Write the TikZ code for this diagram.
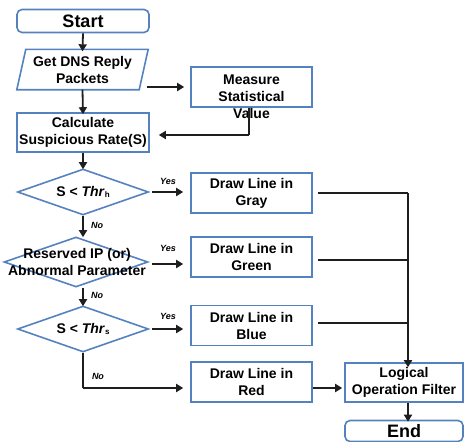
\documentclass[tikz,border=0pt]{standalone}
\usepackage{fontspec}
\setmainfont{Liberation Sans}
\usetikzlibrary{shapes.geometric,arrows.meta}
\definecolor{boxblue}{RGB}{84,130,190}
\definecolor{linecol}{RGB}{30,30,30}
\begin{document}
\begin{tikzpicture}[x=1pt,y=-1pt,
  txt/.style={font=\fontsize{14}{17}\selectfont\bfseries, align=center, inner sep=0pt},
  box/.style={draw=boxblue, line width=1.6pt, txt, minimum width=121pt, minimum height=40pt},
  term/.style={draw=boxblue, line width=1.6pt, rounded corners=5pt, align=center, inner sep=0pt, font=\fontsize{18}{20}\selectfont\bfseries},
  dia/.style={draw=boxblue, line width=1.6pt, diamond, inner sep=0pt},
  conn/.style={draw=linecol, line width=1.8pt},
  arr/.style={conn, -{Triangle[length=7pt,width=8pt]}},
  lbl/.style={font=\fontsize{9}{10}\selectfont\bfseries\itshape, inner sep=0pt}]
\useasboundingbox (0,0) rectangle (464,442);

% terminals and boxes
\node[term, minimum width=132pt, minimum height=23pt] (start) at (83,21) {Start};
\node[txt, minimum width=122pt, minimum height=40pt] (get) at (82.5,69.5) {Get DNS Reply\\Packets};
\draw[draw=boxblue, line width=1.6pt] ([xshift=4.5pt]get.north west) -- ([xshift=4.5pt]get.north east) -- ([xshift=-4.5pt]get.south east) -- ([xshift=-4.5pt]get.south west) -- cycle;
\node[box] (measure) at (251.5,87) {};
\node[txt] (mtext) at (251.5,97) {Measure\\Statistical\\Value};
\node[box, minimum width=132pt, minimum height=39pt] (calc) at (83,132.5) {Calculate\\Suspicious Rate(S)};

\node[dia, minimum width=131pt, minimum height=46pt] (d1) at (83,192) {};
\node[txt] (d1t) at (83,192) {S < \textit{Thr}\raisebox{-1pt}{\fontsize{8}{9}\selectfont h}};
\node[dia, minimum width=144pt, minimum height=50pt] (d2) at (76,262) {};
\node[txt] (d2t) at (77,262) {Reserved IP (or)\\Abnormal Parameter};
\node[dia, minimum width=131pt, minimum height=46pt] (d3) at (83,329) {};
\node[txt] (d3t) at (83,329) {S < \textit{Thr}\raisebox{-1pt}{\fontsize{8}{9}\selectfont s}};

\node[box] (gray) at (251.5,193) {Draw Line in\\Gray};
\node[box] (green) at (251.5,257) {Draw Line in\\Green};
\node[box] (blue) at (251.5,325.5) {Draw Line in\\Blue};
\node[box] (red) at (251.5,382) {Draw Line in\\Red};
\node[box, minimum width=118pt, minimum height=39pt] (logic) at (404,382.5) {Logical\\Operation Filter};
\node[term, minimum width=118pt, minimum height=21pt] (end) at (404,431) {End};

% helper coordinates
\coordinate (bus) at (408,193);
\coordinate (mcorner) at (249,135);
\coordinate (rcorner) at (83,388);

% connectors
\draw[arr] (start.south) -- ([yshift=-2pt]get.north);
\draw[arr] (get.south) -- ([yshift=-2pt]calc.north);
\draw[arr] ([xshift=3pt]get.east |- measure.west) -- ([xshift=-6pt]measure.west);
\draw[conn] (measure.south -| mcorner) -- (mcorner);
\draw[arr] (mcorner) -- ([xshift=9pt]calc.east |- mcorner);
\draw[arr] (calc.south) -- ([yshift=-1pt]d1.north);

\draw[arr] ([xshift=3pt]d1.east) -- ([xshift=-7pt]gray.west |- d1.east);
\draw[arr] (d1.south) -- ([yshift=-1pt]d1.south |- d2.north);
\draw[arr] ([xshift=3pt,yshift=-2pt]d2.east) -- ([xshift=-7pt,yshift=-2pt]green.west |- d2.east);
\draw[arr] (d2.south -| d1.south) -- ([yshift=-1pt]d1.south |- d3.north);
\draw[arr] ([xshift=3pt]d3.east) -- ([xshift=-7pt]blue.west |- d3.east);
\draw[conn] (d3.south) -- (rcorner);
\draw[arr] (rcorner) -- ([xshift=-7pt]red.west |- rcorner);

\draw[conn] ([xshift=5pt]gray.east) -- (bus);
\draw[conn] ([xshift=5pt,yshift=-3pt]green.east) -- ([yshift=-3pt]green.east -| bus);
\draw[conn] ([xshift=5pt,yshift=2.5pt]blue.east) -- ([yshift=2.5pt]blue.east -| bus);
\draw[arr] (bus) -- ([yshift=-5pt]logic.north -| bus);
\draw[arr] (red.east |- rcorner) -- ([xshift=-2pt]logic.west |- rcorner);
\draw[arr] (logic.south -| bus) -- ([yshift=-2pt]end.north -| bus);

% labels
\node[lbl] (y1) at (168,181) {Yes};
\node[lbl] (y2) at (168,248) {Yes};
\node[lbl] (y3) at (168,316) {Yes};
\node[lbl] (n1) at (97,225) {No};
\node[lbl] (n2) at (97,295) {No};
\node[lbl] (n3) at (98,376) {No};
\end{tikzpicture}
\end{document}
